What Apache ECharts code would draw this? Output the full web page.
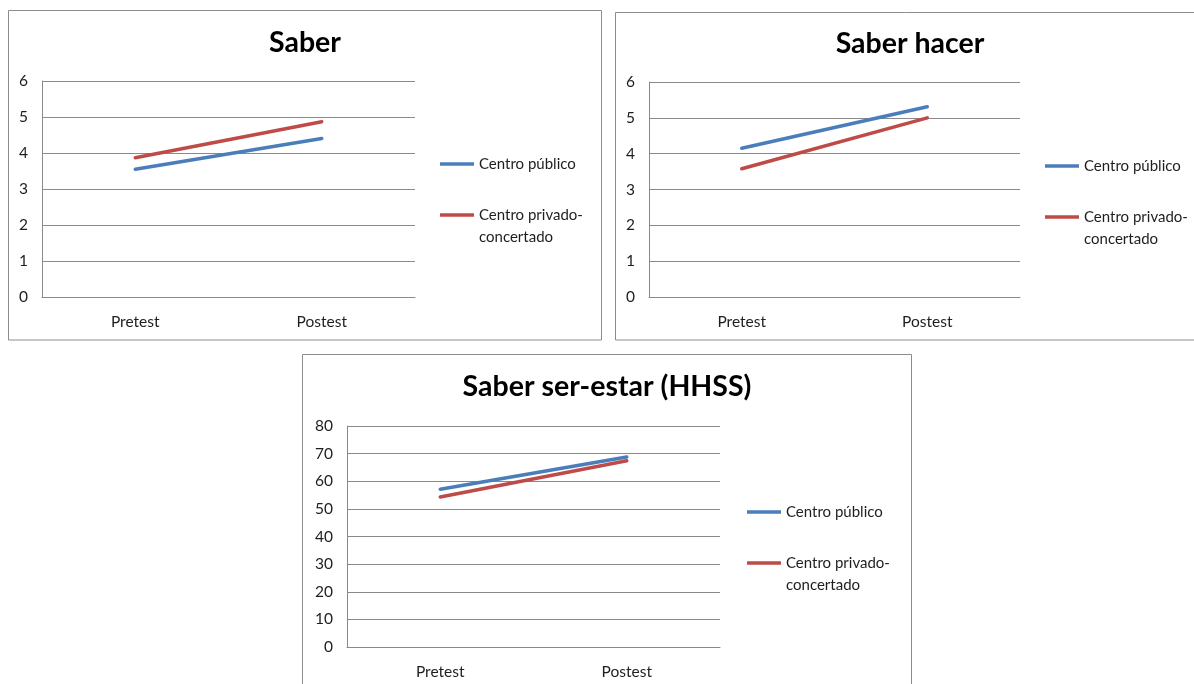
<!DOCTYPE html>
<html>
<head>
<meta charset="utf-8">
<script src="https://cdn.jsdelivr.net/npm/echarts@6/dist/echarts.min.js"></script>
<style>
  html, body { margin: 0; padding: 0; background: #ffffff; }
  #chart { width: 1194px; height: 684px; }
</style>
</head>
<body>
<div id="chart"></div>
<script>
// Mean scores per group, before and after the programme
const categories = ['Pretest', 'Postest'];
const seriesNames = ['Centro público', 'Centro privado-concertado'];

const saberPublico = [3.55, 4.40];
const saberPrivado = [3.87, 4.87];

const hacerPublico = [4.15, 5.31];
const hacerPrivado = [3.58, 5.00];

const hhssPublico = [57.1, 68.8];
const hhssPrivado = [54.3, 67.4];

const panelTitles = ['Saber', 'Saber hacer', 'Saber ser-estar (HHSS)'];
const scaleMax = [6, 6, 80];
const scaleStep = [1, 1, 10];

const FONT = 'Lato';
const TEXT = '#1e1e1e';
const GRID_GRAY = '#8a8a8a';
const BLUE = '#4A7EBB';
const RED = '#BE4B48';

// panel frames and plot areas (pixels)
const panels = [
  { frame: [8.5, 10.5, 593, 329.5], grid: { left: 42, top: 81, width: 373, height: 216 },
    titleX: 305, titleY: 28, legendX: 440, legendY: 153 },
  { frame: [615.5, 12.5, 640, 327.5], grid: { left: 649, top: 82, width: 371, height: 215 },
    titleX: 910, titleY: 29, legendX: 1045, legendY: 155 },
  { frame: [302.5, 354.5, 609, 360], grid: { left: 347, top: 426, width: 373, height: 221 },
    titleX: 607, titleY: 372, legendX: 747, legendY: 501 }
];

const chart = echarts.init(document.getElementById('chart'), null, { renderer: 'canvas' });

const grids = panels.map(p => Object.assign({ containLabel: false }, p.grid));

const xAxes = panels.map((p, i) => ({
  type: 'category',
  gridIndex: i,
  data: categories,
  boundaryGap: true,
  axisLine: { show: true, lineStyle: { color: GRID_GRAY, width: 1 } },
  axisTick: { show: false },
  axisLabel: { color: TEXT, fontFamily: FONT, fontSize: 15.5, margin: 17 },
  splitLine: { show: false }
}));

const yAxes = panels.map((p, i) => ({
  type: 'value',
  gridIndex: i,
  min: 0,
  max: scaleMax[i],
  interval: scaleStep[i],
  axisLine: { show: true, lineStyle: { color: GRID_GRAY, width: 1 } },
  axisTick: { show: false },
  axisLabel: { color: TEXT, fontFamily: FONT, fontSize: 15.5, margin: 14 },
  splitLine: { show: true, lineStyle: { color: GRID_GRAY, width: 1 } }
}));

const values = [
  [saberPublico, saberPrivado],
  [hacerPublico, hacerPrivado],
  [hhssPublico, hhssPrivado]
];
const colors = [BLUE, RED];

const series = [];
values.forEach((pair, i) => {
  pair.forEach((vals, k) => {
    series.push({
      type: 'line',
      name: seriesNames[k],
      xAxisIndex: i,
      yAxisIndex: i,
      data: vals,
      showSymbol: false,
      symbol: 'none',
      silent: true,
      color: colors[k],
      lineStyle: { color: colors[k], width: 3.5, cap: 'round' },
      z: 3 + k
    });
  });
});

const titles = panels.map((p, i) => ({
  text: panelTitles[i],
  left: p.titleX,
  top: p.titleY,
  padding: 0,
  textAlign: 'center',
  textStyle: { fontFamily: FONT, fontWeight: 'bold', fontSize: 28.5, color: '#000000' }
}));

// the wrapped label starts with an empty line so its first line sits beside the icon
const LH = 22;
const legends = panels.map(p => ({
  orient: 'vertical',
  left: p.legendX,
  top: p.legendY,
  padding: 0,
  itemGap: 7,
  itemWidth: 34,
  itemHeight: 3.5,
  icon: 'rect',
  selectedMode: false,
  textStyle: { fontFamily: FONT, fontSize: 15, color: TEXT, lineHeight: LH },
  formatter: name => name === seriesNames[1] ? '\nCentro privado-\nconcertado' : name,
  data: [
    { name: seriesNames[0], itemStyle: { color: BLUE } },
    { name: seriesNames[1], itemStyle: { color: RED } }
  ]
}));

const frames = panels.map(p => ({
  type: 'rect',
  silent: true,
  z: -1,
  shape: { x: p.frame[0], y: p.frame[1], width: p.frame[2], height: p.frame[3] },
  style: { fill: '#ffffff', stroke: '#8c8c8c', lineWidth: 1 }
}));

chart.setOption({
  animation: false,
  backgroundColor: '#ffffff',
  title: titles,
  legend: legends,
  grid: grids,
  xAxis: xAxes,
  yAxis: yAxes,
  series: series,
  graphic: { elements: frames }
});
</script>
</body>
</html>
